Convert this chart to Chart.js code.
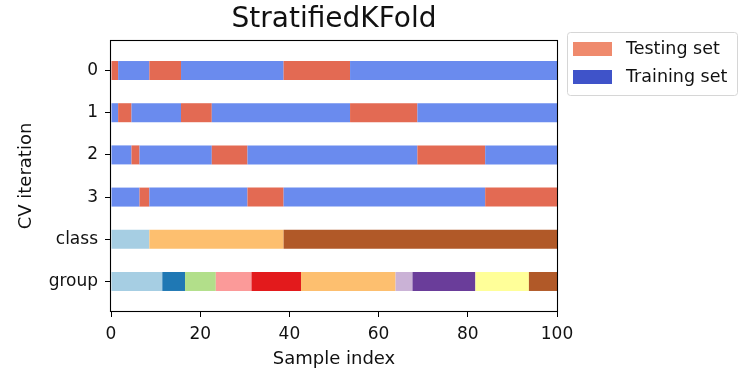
<!DOCTYPE html>
<html>
<head>
<meta charset="utf-8">
<script src="https://cdn.jsdelivr.net/npm/chart.js@4/dist/chart.umd.min.js"></script>
<style>
  html, body { margin: 0; padding: 0; background: #fff; }
  #wrap { width: 748px; height: 379px; position: relative; }
</style>
</head>
<body>
<div id="wrap"><canvas id="c" width="748" height="379"></canvas></div>
<script>
// ---- data ----
const rowLabels = ['0', '1', '2', '3', 'class', 'group'];
const legendLabels = ['Testing set', 'Training set'];
const xTicks = [0, 20, 40, 60, 80, 100];

// segment edges of each CV split along the sample index
const cv0Edges = [0, 1.6, 8.6, 15.7, 38.7, 53.6, 100];
const cv1Edges = [0, 1.6, 4.6, 15.7, 22.6, 53.6, 68.7, 100];
const cv2Edges = [0, 4.6, 6.4, 22.6, 30.6, 68.7, 83.9, 100];
const cv3Edges = [0, 6.4, 8.6, 30.6, 38.7, 83.9, 100];
// 1 = testing set, 0 = training set, per segment
const cv0Sets = [1, 0, 1, 0, 1, 0];
const cv1Sets = [0, 1, 0, 1, 0, 1, 0];
const cv2Sets = [0, 1, 0, 1, 0, 1, 0];
const cv3Sets = [0, 1, 0, 1, 0, 1];

const classEdges = [0, 8.6, 38.7, 100];
const classIds = [0, 1, 2];
const groupEdges = [0, 11.5, 16.6, 23.5, 31.5, 42.6, 63.8, 67.6, 81.7, 93.7, 100];
const groupIds = [0, 1, 2, 3, 4, 5, 6, 7, 8, 9];

// ---- styles ----
const testColor = '#e36a53';
const trainColor = '#6a8bee';
const legendTestColor = '#ef8a6d';
const legendTrainColor = '#3f53c9';
const classColors = ['#a6cee3', '#fdbf6f', '#b15928'];
const groupColors = ['#a6cee3', '#1f78b4', '#b2df8a', '#fb9a99', '#e31a1c',
                     '#fdbf6f', '#cab2d6', '#6a3d9a', '#ffff99', '#b15928'];
const FONT = 'DejaVu Sans';
const TEXT = '#111';

function rowDataset(rowIdx, edges, colors) {
  const data = [];
  for (let i = 0; i < edges.length - 1; i++) {
    data.push({ x: [edges[i], edges[i + 1]], y: rowIdx + 0.5 });
  }
  return {
    data,
    backgroundColor: colors,
    borderWidth: 0,
    barThickness: 19,
    grouped: false,
    inflateAmount: 0
  };
}

const cvEdges = [cv0Edges, cv1Edges, cv2Edges, cv3Edges];
const cvSets = [cv0Sets, cv1Sets, cv2Sets, cv3Sets];
const datasets = [];
cvEdges.forEach((e, r) => {
  datasets.push(rowDataset(r, e, cvSets[r].map(s => s ? testColor : trainColor)));
});
datasets.push(rowDataset(4, classEdges, classIds.map(c => classColors[c])));
datasets.push(rowDataset(5, groupEdges, groupIds.map(g => groupColors[g])));

const framePlugin = {
  id: 'frame',
  afterDatasetsDraw(chart) {
    const { ctx, chartArea: a } = chart;
    ctx.save();
    ctx.strokeStyle = '#000';
    ctx.lineWidth = 1.1;
    ctx.strokeRect(Math.round(a.left) - 0.5, Math.round(a.top) - 0.5,
                   Math.round(a.right - a.left) + 1, Math.round(a.bottom - a.top) + 1);
    ctx.restore();
  }
};

const legendPlugin = {
  id: 'customLegend',
  afterDraw(chart) {
    const { ctx } = chart;
    const x0 = 567.5, y0 = 32.5, w = 170, h = 63, r = 3;
    ctx.save();
    ctx.fillStyle = 'rgba(255,255,255,0.8)';
    ctx.strokeStyle = '#d6d6d6';
    ctx.lineWidth = 1;
    ctx.beginPath();
    ctx.roundRect(x0, y0, w, h, r);
    ctx.fill();
    ctx.stroke();
    const colors = [legendTestColor, legendTrainColor];
    const rowsY = [49, 77];
    ctx.font = '17.5px "' + FONT + '"';
    ctx.textBaseline = 'middle';
    ctx.textAlign = 'left';
    legendLabels.forEach((lab, i) => {
      ctx.fillStyle = colors[i];
      ctx.fillRect(573, rowsY[i] - 7, 39, 14);
      ctx.fillStyle = TEXT;
      ctx.fillText(lab, 626, rowsY[i]);
    });
    ctx.restore();
  }
};

new Chart(document.getElementById('c'), {
  type: 'bar',
  data: { datasets },
  plugins: [framePlugin, legendPlugin],
  options: {
    indexAxis: 'y',
    responsive: false,
    animation: false,
    devicePixelRatio: 1,
    layout: { padding: { left: 0, right: 191, top: 0, bottom: 0 } },
    plugins: {
      legend: { display: false },
      tooltip: { enabled: false },
      title: {
        display: true,
        text: 'StratifiedKFold',
        fullSize: false,
        color: TEXT,
        font: { family: FONT, size: 28, weight: 'normal' },
        padding: { top: 2.9, bottom: 4.5 }
      }
    },
    scales: {
      x: {
        type: 'linear',
        min: 0, max: 100,
        bounds: 'data',
        afterBuildTicks(scale) { scale.ticks = xTicks.map(v => ({ value: v })); },
        afterFit(scale) { scale.height = 68; },
        border: { display: false },
        grid: { display: true, drawOnChartArea: false, drawTicks: true,
                tickLength: 6, tickColor: '#000', tickWidth: 1 },
        ticks: { color: TEXT, padding: 7, maxRotation: 0,
                 font: { family: FONT, size: 17 } },
        title: { display: true, text: 'Sample index', color: TEXT,
                 font: { family: FONT, size: 18 }, padding: { top: 0, bottom: 8.5 } }
      },
      y: {
        type: 'linear',
        reverse: true,
        offset: false,
        bounds: 'data',
        min: -0.2, max: 6.2,
        afterBuildTicks(scale) { scale.ticks = rowLabels.map((_, i) => ({ value: i + 0.5 })); },
        afterFit(scale) { scale.width = 111; },
        border: { display: false },
        grid: { display: true, offset: false, drawOnChartArea: false, drawTicks: true,
                tickLength: 6, tickColor: '#000', tickWidth: 1 },
        ticks: {
          color: TEXT, padding: 7,
          font: { family: FONT, size: 17 },
          callback: v => rowLabels[Math.round(v - 0.5)]
        },
        title: { display: true, text: 'CV iteration', color: TEXT,
                 font: { family: FONT, size: 18 }, padding: { top: 15.5, bottom: 0 } }
      }
    }
  }
});
</script>
</body>
</html>
